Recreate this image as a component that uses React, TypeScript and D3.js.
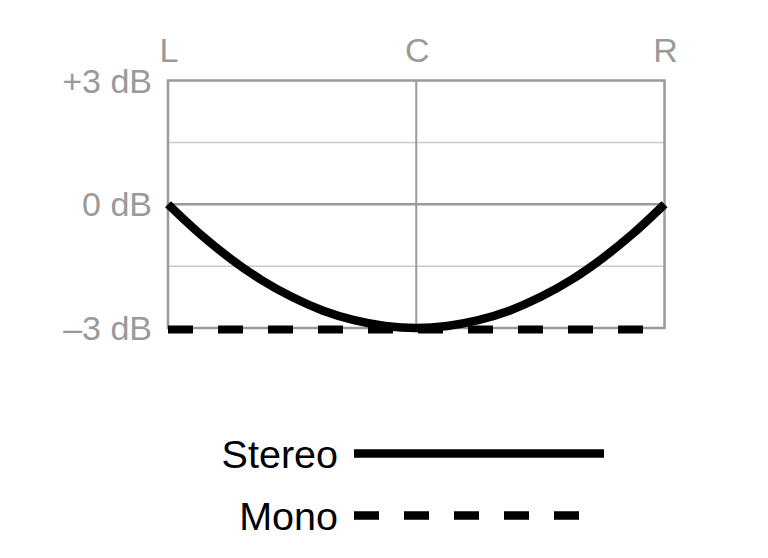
import React from "react";
import * as d3 from "d3";

// Pan position (-1 = L, 0 = C, 1 = R) and level in dB
const panPositions = [-1, -0.875, -0.75, -0.625, -0.5, -0.375, -0.25, -0.125, 0, 0.125, 0.25, 0.375, 0.5, 0.625, 0.75, 0.875, 1];
const stereoDb = [0, -0.7, -1.31, -1.83, -2.25, -2.58, -2.81, -2.95, -3, -2.95, -2.81, -2.58, -2.25, -1.83, -1.31, -0.7, 0];
const monoDb = [-3, -3];
const monoPan = [-1, 1];

const xTickValues = [-1, 0, 1];
const xTickLabels = ["L", "C", "R"];
const yTickValues = [3, 0, -3];
const yTickLabels = ["+3 dB", "0 dB", "\u20133 dB"];
const yMinorGrid = [1.5, -1.5];

const legendLabels = ["Stereo", "Mono"];

const W = 768;
const H = 558;
const FONT = "'Liberation Sans', Arial, Helvetica, sans-serif";
const GRAY = "#9a9a9a";
const LIGHT = "#c9c9c9";

export default function App() {
  const x = d3.scaleLinear().domain([-1, 1]).range([168, 664.5]);
  const y = d3.scaleLinear().domain([-3, 3]).range([328, 80.5]);

  const stereoLine = d3
    .line<number>()
    .x((_, i) => x(panPositions[i]))
    .y((d) => y(d))
    .curve(d3.curveMonotoneX)(stereoDb) as string;

  const monoLine = d3
    .line<number>()
    .x((_, i) => x(monoPan[i]))
    .y((d) => y(d))(monoDb) as string;

  const legendX0 = 354;
  const legendYs = [453.5, 515.5];
  const legendEnds = [604, 579];

  return (
    <svg
      width={W}
      height={H}
      style={{ position: "absolute", left: 0, top: 0, background: "#fff" }}
      fontFamily={FONT}
    >
      {/* minor grid */}
      {yMinorGrid.map((v) => (
        <line key={"m" + v} x1={x(-1)} x2={x(1)} y1={y(v)} y2={y(v)} stroke={LIGHT} strokeWidth={1.5} />
      ))}
      {/* major horizontal grid */}
      {yTickValues.map((v) => (
        <line key={"h" + v} x1={x(-1) - 1.25} x2={x(1) + 1.25} y1={y(v)} y2={y(v)} stroke={GRAY} strokeWidth={2.5} />
      ))}
      {/* vertical lines */}
      {xTickValues.map((v) => (
        <line key={"v" + v} x1={x(v)} x2={x(v)} y1={y(3)} y2={y(-3)} stroke={GRAY} strokeWidth={v === 0 ? 2 : 2.5} />
      ))}
      {/* x labels */}
      {xTickValues.map((v, i) => (
        <text key={"xl" + v} x={x(v) + 1} y={62} textAnchor="middle" fontSize={34} fill={GRAY}>
          {xTickLabels[i]}
        </text>
      ))}
      {/* y labels */}
      {yTickValues.map((v, i) => (
        <text key={"yl" + v} x={152} y={y(v) + 12} textAnchor="end" fontSize={34} fill={GRAY}>
          {yTickLabels[i]}
        </text>
      ))}
      {/* mono */}
      <path d={monoLine} fill="none" stroke="#000" strokeWidth={8} strokeDasharray="25 25" transform="translate(0,1.5)" />
      {/* stereo */}
      <path d={stereoLine} fill="none" stroke="#000" strokeWidth={8.5} strokeLinecap="butt" />

      {/* legend */}
      {legendLabels.map((lab, i) => (
        <g key={lab}>
          <text x={338} y={legendYs[i] + 14} textAnchor="end" fontSize={39.5} fill="#000">
            {lab}
          </text>
          <line
            x1={legendX0}
            x2={legendEnds[i]}
            y1={legendYs[i]}
            y2={legendYs[i]}
            stroke="#000"
            strokeWidth={8.5}
            strokeDasharray={i === 1 ? "25 25" : undefined}
          />
        </g>
      ))}
    </svg>
  );
}
